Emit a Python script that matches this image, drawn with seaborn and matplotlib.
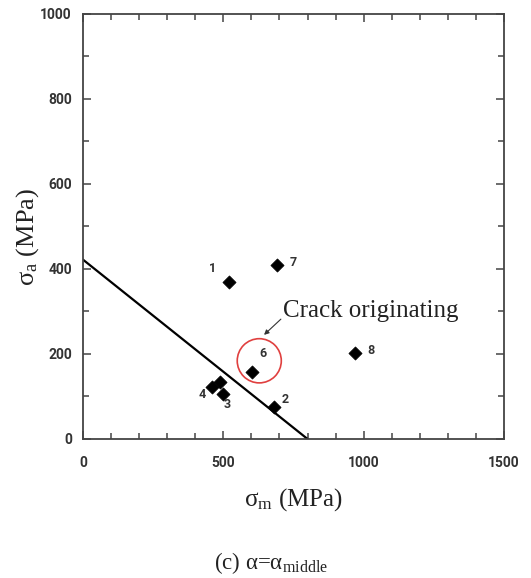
import matplotlib
matplotlib.use("Agg")
import matplotlib.pyplot as plt
import seaborn as sns
import pandas as pd
from matplotlib.patches import Ellipse
from matplotlib.ticker import MultipleLocator

sns.set_theme(style="white")
plt.rcParams['font.family'] = ['Roboto', 'DejaVu Sans']
plt.rcParams['mathtext.fontset'] = 'custom'
plt.rcParams['mathtext.rm'] = 'Liberation Serif'
plt.rcParams['mathtext.it'] = 'Liberation Serif:italic'

# data
specimen = ['1', '7', '8', '6', '2', '3', '4', '5']
sigma_m = [520, 690, 969, 603, 682, 498, 460, 488]
sigma_a = [370, 410, 203, 158, 75, 107, 122, 134]
label_dx = [-57, 58, 56, 38, 38, 14, -37, 0]
label_dy = [32, 6, 6, 42, 17, -27, -18, 0]
show_label = [True, True, True, True, True, True, True, False]

goodman_x = [0, 800]
goodman_y = [422, 0]

x_ticks = [0, 500, 1000, 1500]
y_ticks = [0, 200, 400, 600, 800, 1000]

df = pd.DataFrame({'sm': sigma_m, 'sa': sigma_a, 'lab': specimen})
line_df = pd.DataFrame({'x': goodman_x, 'y': goodman_y})

fig = plt.figure(figsize=(5.31, 5.78), dpi=100)
ax = fig.add_axes([0.1563, 0.2405, 0.7929, 0.7353])

sns.lineplot(data=line_df, x='x', y='y', ax=ax, color='black', linewidth=1.6)
sns.scatterplot(data=df, x='sm', y='sa', ax=ax, marker='D', s=45,
                color='black', edgecolor='black', linewidth=0.5, zorder=5)

for lab, x, y, dx, dy, show in zip(specimen, sigma_m, sigma_a, label_dx, label_dy, show_label):
    if show:
        ax.text(x + dx, y + dy, lab, fontsize=9, color='#333333',
                ha='center', va='center', fontweight='bold')

# red circle
ax.add_patch(Ellipse((628, 184), width=157, height=104, fill=False,
                     edgecolor='#e0403f', linewidth=1.2, zorder=6))
ax.text(712, 302, 'Crack originating', fontsize=18,
        family=['Liberation Serif', 'DejaVu Serif'],
        color='#222222', ha='left', va='center')
ax.annotate('', xy=(645, 245), xytext=(705, 282),
            arrowprops=dict(arrowstyle='-|>', color='#333333', lw=0.8,
                            mutation_scale=7, shrinkA=0, shrinkB=0))

ax.set_xlim(0, 1500)
ax.set_ylim(0, 1000)
ax.set_xticks(x_ticks)
ax.set_yticks(y_ticks)
ax.xaxis.set_minor_locator(MultipleLocator(100))
ax.yaxis.set_minor_locator(MultipleLocator(100))
ax.tick_params(axis='both', which='both', direction='in', top=True, right=True,
               bottom=True, left=True, colors='#444444', labelcolor='#333333')
ax.tick_params(axis='both', which='major', length=6, width=1.1, labelsize=10)
ax.tick_params(axis='both', which='minor', length=4.5, width=1.1)
ax.tick_params(axis='x', which='major', pad=12)
ax.tick_params(axis='y', which='major', pad=8)
for t in ax.get_xticklabels() + ax.get_yticklabels():
    t.set_fontweight('bold')
for s in ax.spines.values():
    s.set_visible(True)
    s.set_color('#444444')
    s.set_linewidth(1.3)

ax.set_xlabel(r'$\mathrm{\sigma_{m}}$ (MPa)', fontsize=18,
              family=['Liberation Serif', 'DejaVu Serif'], color='#222222', labelpad=12)
ax.set_ylabel(r'$\mathrm{\sigma_{a}}$ (MPa)', fontsize=19,
              family=['Liberation Serif', 'DejaVu Serif'], color='#222222')
ax.yaxis.set_label_coords(-0.1, 0.475)

fig.text(0.51, 0.026, r'(c) $\mathrm{\alpha}$=$\mathrm{\alpha_{middle}}$', fontsize=16.5,
         family=['Liberation Serif', 'DejaVu Serif'], color='#222222', ha='center', va='center')

fig.savefig('out.png', dpi=100)
